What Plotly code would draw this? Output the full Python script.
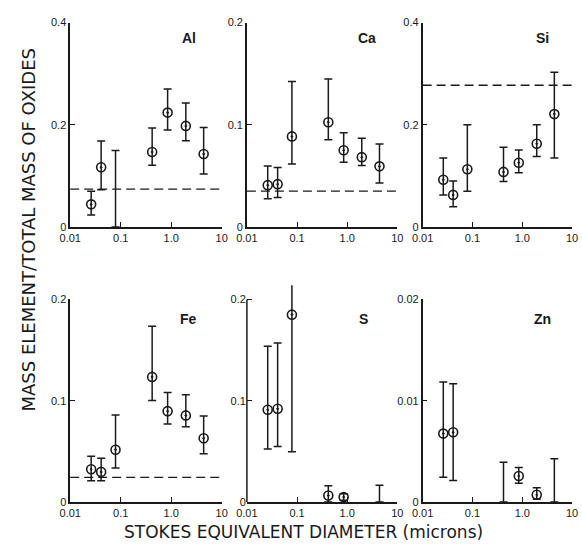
import plotly.graph_objects as go

# Impactor stage Stokes diameters (microns)
x_stage = [0.026, 0.041, 0.079, 0.42, 0.85, 1.95, 4.4]

elements = ["Al", "Ca", "Si", "Fe", "S", "Zn"]

al_mean = [0.0445, 0.117, None, 0.147, 0.224, 0.198, 0.143]
al_upper = [0.070, 0.1685, 0.150, 0.194, 0.270, 0.243, 0.195]
al_lower = [0.0235, 0.073, 0.0, 0.121, 0.190, 0.169, 0.104]

ca_mean = [0.041, 0.042, 0.0887, 0.1026, 0.0752, 0.0684, 0.0594]
ca_upper = [0.0597, 0.0584, 0.1423, 0.1448, 0.0923, 0.0868, 0.0813]
ca_lower = [0.0277, 0.029, 0.0616, 0.0855, 0.0635, 0.0603, 0.0432]

si_mean = [0.0925, 0.063, 0.113, 0.108, 0.126, 0.163, 0.221]
si_upper = [0.135, 0.090, 0.200, 0.156, 0.151, 0.200, 0.303]
si_lower = [0.063, 0.040, 0.070, 0.089, 0.1065, 0.138, 0.135]

fe_mean = [0.0323, 0.0297, 0.0516, 0.1235, 0.0897, 0.0855, 0.0629]
fe_upper = [0.0452, 0.0432, 0.0858, 0.1735, 0.108, 0.106, 0.0848]
fe_lower = [0.021, 0.021, 0.0335, 0.1003, 0.0771, 0.0742, 0.0477]

s_mean = [0.091, 0.092, 0.185, 0.0064, 0.0048, None, None]
s_upper = [0.1537, 0.157, 0.222, 0.016, 0.008, None, 0.0164]
s_lower = [0.0524, 0.0547, 0.0495, 0.0, 0.0016, None, 0.0]

zn_mean = [0.00675, 0.00688, None, None, 0.00257, 0.00071, None]
zn_upper = [0.01186, 0.01167, None, 0.00392, 0.0034, 0.00141, 0.00428]
zn_lower = [0.00244, 0.00212, None, 0.0, 0.00186, 0.00026, 0.0]

# crustal reference ratio (dashed lines)
ref_ratio = [0.0744, 0.0352, 0.2775, 0.0242, None, None]

y_ticks = [[0, 0.2, 0.4], [0, 0.1, 0.2], [0, 0.2, 0.4], [0, 0.1, 0.2], [0, 0.1, 0.2], [0, 0.01, 0.02]]
y_ticktext = [["0", "0.2", "0.4"], ["0", "0.1", "0.2"], ["0", "0.2", "0.4"],
              ["0", "0.1", "0.2"], ["0", "0.1", "0.2"], ["0", "0.01", "0.02"]]
x_tickvals = [0.01, 0.1, 1.0, 10]
x_ticktext = ["0.01", "0.1", "1.0", "10"]

means = [al_mean, ca_mean, si_mean, fe_mean, s_mean, zn_mean]
uppers = [al_upper, ca_upper, si_upper, fe_upper, s_upper, zn_upper]
lowers = [al_lower, ca_lower, si_lower, fe_lower, s_lower, zn_lower]

W, H = 582, 551
xdom_px = [(61, 217), (243, 398), (424, 578)]
ydom_px = [(17, 226), (300, 507)]
y_ranges = [[0, 0.4], [0, 0.2], [0, 0.4], [0, 0.2], [0, 0.2], [0, 0.02]]
# S panel: error bar extends above the axis top
s_extra = 0.014
label_pos_px = [(183, 33), (367, 33), (547, 33), (183, 320), (363, 320), (548, 320)]

fig = go.Figure()
shapes = []
annotations = []
ink = "#1a1a1a"
tickfont = dict(family="Liberation Sans, Arial", size=11, color=ink)

for i, el in enumerate(elements):
    r, c = divmod(i, 3)
    n = i + 1
    xa = "x" if n == 1 else f"x{n}"
    ya = "y" if n == 1 else f"y{n}"
    xkey = "xaxis" if n == 1 else f"xaxis{n}"
    ykey = "yaxis" if n == 1 else f"yaxis{n}"
    x0p, x1p = xdom_px[c]
    ytop, ybot = ydom_px[r]
    yr = list(y_ranges[i])
    showyline = True
    if el == "S":
        ppu = (ybot - ytop) / (yr[1] - yr[0])
        ytop = ytop - s_extra * ppu
        yr[1] = yr[1] + s_extra
        showyline = False
        shapes.append(dict(type="line", xref=f"{xa} domain", yref=ya, x0=0, x1=0,
                           y0=0, y1=y_ranges[i][1], line=dict(color=ink, width=1.5)))
    fig.layout[xkey] = dict(domain=[x0p / W, x1p / W], anchor=ya, type="log",
                            range=[-2, 1], tickvals=x_tickvals, ticktext=x_ticktext,
                            ticks="inside", ticklen=5, tickwidth=1.2, tickcolor=ink,
                            showline=True, linecolor=ink, linewidth=1.5,
                            showgrid=False, zeroline=False, tickfont=tickfont)
    fig.layout[ykey] = dict(domain=[1 - ybot / H, 1 - ytop / H], anchor=xa,
                            range=yr, tickvals=y_ticks[i], ticktext=y_ticktext[i],
                            ticks="inside", ticklen=5, tickwidth=1.2, tickcolor=ink,
                            showline=showyline, linecolor=ink, linewidth=1.5,
                            showgrid=False, zeroline=False, tickfont=tickfont)

    m, up, lo = means[i], uppers[i], lowers[i]
    xs, ys, ep, em = [], [], [], []
    bx, by, bp, bm = [], [], [], []
    for xv, mv, uv, lv in zip(x_stage, m, up, lo):
        if uv is None:
            continue
        if mv is not None:
            xs.append(xv); ys.append(mv); ep.append(uv - mv); em.append(mv - lv)
        else:
            mid = (uv + lv) / 2
            bx.append(xv); by.append(mid); bp.append(uv - mid); bm.append(mid - lv)
    fig.add_trace(go.Scatter(x=xs, y=ys, mode="markers", xaxis=xa, yaxis=ya,
                             marker=dict(symbol="circle-open-dot", size=9, color=ink,
                                         line=dict(width=1.6, color=ink)),
                             error_y=dict(type="data", symmetric=False, array=ep, arrayminus=em,
                                          color=ink, thickness=1.5, width=4),
                             showlegend=False, hoverinfo="x+y"))
    if bx:
        fig.add_trace(go.Scatter(x=bx, y=by, mode="markers", xaxis=xa, yaxis=ya,
                                 marker=dict(size=1, color="rgba(0,0,0,0)"),
                                 error_y=dict(type="data", symmetric=False, array=bp, arrayminus=bm,
                                              color=ink, thickness=1.5, width=4),
                                 showlegend=False, hoverinfo="skip"))
    if ref_ratio[i] is not None:
        shapes.append(dict(type="line", xref=f"{xa} domain", yref=ya, x0=0, x1=1,
                           y0=ref_ratio[i], y1=ref_ratio[i],
                           line=dict(color=ink, width=1.3, dash="9px,5px")))
    lx, ly = label_pos_px[i]
    annotations.append(dict(text=f"<b>{el}</b>", xref="paper", yref="paper",
                            x=lx / W, y=1 - ly / H, xanchor="center", yanchor="middle",
                            showarrow=False,
                            font=dict(family="Liberation Sans, Arial", size=14, color=ink)))

annotations.append(dict(text="MASS ELEMENT/TOTAL MASS OF OXIDES", xref="paper", yref="paper",
                        x=18 / W, y=1 - 229 / H, xanchor="center", yanchor="middle",
                        showarrow=False, textangle=-90,
                        font=dict(family="DejaVu Sans", size=18, color=ink)))
annotations.append(dict(text="STOKES EQUIVALENT DIAMETER (microns)", xref="paper", yref="paper",
                        x=301 / W, y=1 - 538 / H, xanchor="center", yanchor="middle",
                        showarrow=False,
                        font=dict(family="DejaVu Sans", size=17, color=ink)))

fig.update_layout(width=W, height=H, margin=dict(l=0, r=0, t=0, b=0),
                  paper_bgcolor="white", plot_bgcolor="white",
                  shapes=shapes, annotations=annotations, showlegend=False)

fig.write_html("out.html")
